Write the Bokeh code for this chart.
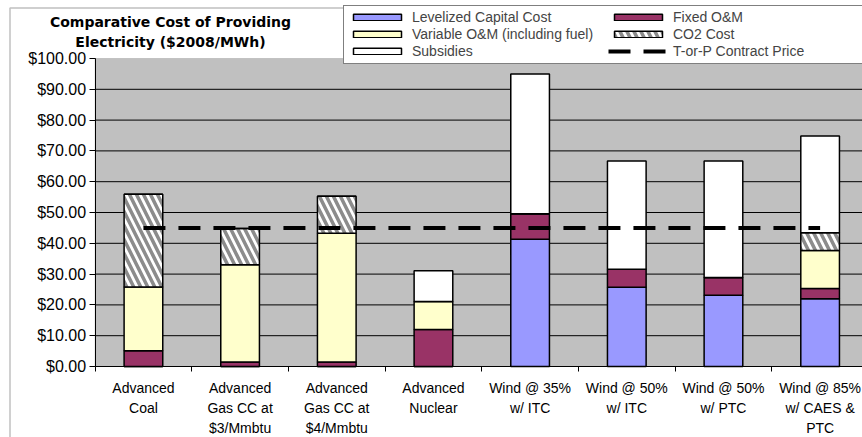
from bokeh.plotting import figure
from bokeh.models import (Range1d, FixedTicker, NumeralTickFormatter, Legend,
                          LegendItem, Label, ColumnDataSource, BoxAnnotation)
from bokeh.embed import file_html
from bokeh.resources import INLINE

categories = ["Advanced\nCoal", "Advanced\nGas CC at\n$3/Mmbtu", "Advanced\nGas CC at\n$4/Mmbtu",
              "Advanced\nNuclear", "Wind @ 35%\nw/ ITC", "Wind @ 50%\nw/ ITC",
              "Wind @ 50%\nw/ PTC", "Wind @ 85%\nw/ CAES &\nPTC"]
capital = [0.0, 0.0, 0.0, 0.0, 41.3, 25.7, 23.1, 22.0]
fixed_om = [5.1, 1.5, 1.5, 12.0, 8.3, 5.9, 5.8, 3.3]
variable_om = [20.7, 31.5, 41.8, 9.1, 0.0, 0.0, 0.0, 12.4]
co2_cost = [30.1, 11.8, 12.0, 0.0, 0.0, 0.0, 0.0, 5.7]
subsidies = [0.0, 0.0, 0.0, 10.0, 45.4, 35.1, 37.8, 31.4]
contract_price = [45, 45, 45, 45, 45, 45, 45, 45]
y_ticks = [0, 10, 20, 30, 40, 50, 60, 70, 80, 90, 100]

series_names = ["capital", "fixed", "variable", "co2", "subsidies"]
series_labels = ["Levelized Capital Cost", "Fixed O&M", "Variable O&M (including fuel)",
                 "CO2 Cost", "Subsidies"]
series_colors = ["#9999FF", "#993366", "#FFFFCC", "#FFFFFF", "#FFFFFF"]
series_hatch = [" ", " ", " ", "\\", " "]

n = len(categories)
xs = [i + 0.5 for i in range(n)]
src = ColumnDataSource(dict(x=xs, capital=capital, fixed=fixed_om, variable=variable_om,
                            co2=co2_cost, subsidies=subsidies, contract=contract_price))

# whole canvas is the frame; axes are pinned at x=0 / y=0 inside it
W, H = 862, 437
px_per_cat, x0_px = 96.67, 94.6
px_per_unit, y0_px = 3.08, 366.0
x_lo = -x0_px / px_per_cat
x_hi = (W - x0_px) / px_per_cat
y_hi = y0_px / px_per_unit
y_lo = -(H - y0_px) / px_per_unit

p = figure(width=W, height=H, x_range=Range1d(x_lo, x_hi), y_range=Range1d(y_lo, y_hi),
           output_backend="svg", toolbar_location=None,
           min_border_left=0, min_border_right=0, min_border_top=0, min_border_bottom=0)
p.background_fill_color = "white"
p.border_fill_color = "white"
p.outline_line_color = None
p.xgrid.visible = False
p.ygrid.visible = False

# plot area
p.add_layout(BoxAnnotation(left=0, right=n, bottom=y_ticks[0], top=y_ticks[-1],
                           fill_color="#C0C0C0", fill_alpha=1.0,
                           line_color="#808080", line_width=1, level="underlay"))
# outer chart border (top & left edges visible)
p.add_layout(BoxAnnotation(left=x_lo + 9.5 / px_per_cat, right=n + 2,
                           top=y_hi - 7.5 / px_per_unit, bottom=y_lo - 20,
                           fill_alpha=0, line_color="#303030", line_width=1.5,
                           level="underlay"))

# horizontal grid lines
grid_y = y_ticks[1:-1]
p.segment(x0=[0] * len(grid_y), x1=[n] * len(grid_y), y0=grid_y, y1=grid_y,
          line_color="black", line_width=1)

bars = p.vbar_stack(series_names, x="x", width=0.4, source=src,
                    fill_color=series_colors, line_color="black", line_width=1.5,
                    hatch_pattern=series_hatch, hatch_color="#8C8C8C",
                    hatch_weight=3.5, hatch_scale=14)

line = p.line(x="x", y="contract", source=src, line_color="black", line_width=4,
              line_dash="22 13")

items = [
    LegendItem(label=series_labels[0], renderers=[bars[0]]),
    LegendItem(label=series_labels[1], renderers=[bars[1]]),
    LegendItem(label=series_labels[2], renderers=[bars[2]]),
    LegendItem(label=series_labels[3], renderers=[bars[3]]),
    LegendItem(label=series_labels[4], renderers=[bars[4]]),
    LegendItem(label="T-or-P Contract Price", renderers=[line]),
]
legend = Legend(items=items, location=(343, H - 63.5), orientation="horizontal", ncols=2,
                glyph_width=60, glyph_height=8, label_standoff=5, label_width=196,
                label_height=17, padding=3, spacing=0, margin=0,
                label_text_font="Liberation Sans", label_text_font_size="14px",
                border_line_color="black", border_line_width=1,
                background_fill_color="white", background_fill_alpha=1.0)
p.add_layout(legend)

# axes
p.yaxis.fixed_location = 0
p.yaxis.bounds = (y_ticks[0], y_ticks[-1])
p.yaxis.ticker = FixedTicker(ticks=y_ticks)
p.yaxis.formatter = NumeralTickFormatter(format="$0.00")
p.yaxis.major_label_text_font = "Liberation Sans"
p.yaxis.major_label_text_font_size = "16px"
p.yaxis.major_label_text_color = "black"
p.yaxis.major_tick_out = 6
p.yaxis.major_tick_in = 0
p.yaxis.minor_tick_out = 0
p.yaxis.minor_tick_in = 0
p.yaxis.major_label_standoff = 3
p.yaxis.axis_line_color = "black"
p.yaxis.major_tick_line_color = "black"

p.xaxis.fixed_location = 0
p.xaxis.bounds = (0, n)
p.xaxis.ticker = FixedTicker(ticks=xs, minor_ticks=list(range(0, n + 1)))
p.xaxis.major_label_overrides = {xv: lab for xv, lab in zip(xs, categories)}
p.xaxis.major_label_text_font = "Liberation Sans"
p.xaxis.major_label_text_font_size = "14px"
p.xaxis.major_label_text_line_height = 1.25
p.xaxis.major_label_text_color = "black"
p.xaxis.major_tick_out = 0
p.xaxis.major_tick_in = 0
p.xaxis.minor_tick_out = 5
p.xaxis.minor_tick_in = 0
p.xaxis.minor_tick_line_color = "black"
p.xaxis.major_label_standoff = 8
p.xaxis.axis_line_color = "black"

title_lines = ["Comparative Cost of Providing", "Electricity ($2008/MWh)"]
for txt, ypx in zip(title_lines, [21.0, 41.0]):
    p.add_layout(Label(x=(170 - x0_px) / px_per_cat, y=(y0_px - ypx) / px_per_unit, text=txt,
                       text_align="center", text_baseline="middle",
                       text_font="DejaVu Sans", text_font_style="bold",
                       text_font_size="14px", text_color="black"))

open("out.html", "w").write(file_html(p, INLINE))
